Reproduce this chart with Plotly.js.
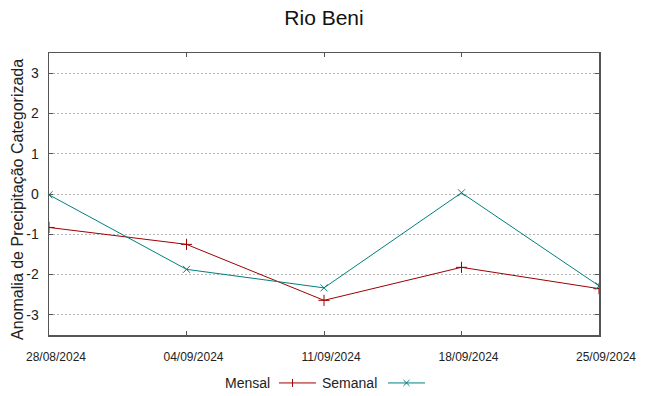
<!DOCTYPE html>
<html>
<head>
<meta charset="utf-8">
<script src="https://cdn.plot.ly/plotly-3.0.1.min.js"></script>
<style>html,body{margin:0;padding:0;background:#fff;}#chart{width:648px;height:396px;}</style>
</head>
<body>
<div id="chart"></div>
<script>
const dates = ['2024-08-28', '2024-09-04', '2024-09-11', '2024-09-18', '2024-09-25'];
const tickLabels = ['28/08/2024', '04/09/2024', '11/09/2024', '18/09/2024', '25/09/2024'];
const mensal = [-0.83, -1.25, -2.64, -1.82, -2.35];
const semanal = [-0.02, -1.87, -2.33, 0.03, -2.28];
const yTicks = [-3, -2, -1, 0, 1, 2, 3];

const red = '#9e0000';
const teal = '#007f7f';
const font = 'Liberation Sans, Arial, sans-serif';

const traces = [
  {
    x: dates, y: mensal, name: 'Mensal', type: 'scatter', mode: 'lines+markers',
    line: {color: red, width: 1},
    marker: {symbol: 'cross-thin-open', size: 8, color: red, line: {color: red, width: 1}},
    showlegend: false
  },
  {
    x: dates, y: semanal, name: 'Semanal', type: 'scatter', mode: 'lines+markers',
    line: {color: teal, width: 1},
    marker: {symbol: 'x-thin-open', size: 7, color: teal, line: {color: teal, width: 1}},
    showlegend: false
  }
];

const ly = -0.170;
const layout = {
  width: 648, height: 396,
  margin: {l: 49, r: 49, t: 53, b: 61},
  paper_bgcolor: '#fff', plot_bgcolor: '#fff',
  font: {family: font, color: '#222', size: 14},
  title: {text: 'Rio Beni', font: {family: font, size: 21, color: '#111'}, x: 0.5, xanchor: 'center', y: 1 - 18/396, yanchor: 'middle', yref: 'container'},
  xaxis: {
    type: 'date', range: [dates[0], dates[dates.length - 1]],
    tickmode: 'array', tickvals: dates, ticktext: tickLabels,
    ticks: 'inside', ticklen: 4, tickcolor: '#555', mirror: 'ticks',
    showline: true, linecolor: '#555', linewidth: 1.5,
    showgrid: false, zeroline: false,
    tickfont: {family: font, size: 12, color: '#222'},
    ticklabelstandoff: 10,
    ticklabelshift: 7
  },
  yaxis: {
    range: [-3.5, 3.5], tickmode: 'array', tickvals: yTicks, ticktext: yTicks.map(String),
    ticks: 'inside', ticklen: 4, tickcolor: '#555', mirror: 'ticks',
    showline: true, linecolor: '#555', linewidth: 1.5,
    showgrid: true, gridcolor: '#b4b4b4', griddash: '2px,2px', gridwidth: 1,
    zeroline: false,
    tickfont: {family: font, size: 14, color: '#222'},
    ticklabelstandoff: 6
  },
  annotations: [
    {xref: 'paper', yref: 'paper', x: -31/550, y: 0.479, text: 'Anomalia de Precipitação Categorizada', textangle: -90, showarrow: false, xanchor: 'center', yanchor: 'middle', font: {family: font, size: 16, color: '#222'}},
    {xref: 'paper', yref: 'paper', x: 0.4055, y: ly, text: 'Mensal', showarrow: false, xanchor: 'right', yanchor: 'middle', font: {family: font, size: 14, color: '#222'}},
    {xref: 'paper', yref: 'paper', x: 0.6005, y: ly, text: 'Semanal', showarrow: false, xanchor: 'right', yanchor: 'middle', font: {family: font, size: 14, color: '#222'}}
  ],
  shapes: [
    {type: 'line', xref: 'paper', yref: 'paper', x0: 0.4182, x1: 0.4855, y0: ly, y1: ly, line: {color: red, width: 1}},
    {type: 'line', xref: 'paper', yref: 'paper', x0: 0.4427, x1: 0.4427, y0: ly - 0.0142, y1: ly + 0.0142, line: {color: red, width: 1}},
    {type: 'line', xref: 'paper', yref: 'paper', x0: 0.6164, x1: 0.6836, y0: ly, y1: ly, line: {color: teal, width: 1}},
    {type: 'line', xref: 'paper', yref: 'paper', x0: 0.6445, x1: 0.6555, y0: ly - 0.0106, y1: ly + 0.0106, line: {color: teal, width: 1}},
    {type: 'line', xref: 'paper', yref: 'paper', x0: 0.6445, x1: 0.6555, y0: ly + 0.0106, y1: ly - 0.0106, line: {color: teal, width: 1}}
  ]
};

Plotly.newPlot('chart', traces, layout, {displayModeBar: false, staticPlot: true});
</script>
</body>
</html>
